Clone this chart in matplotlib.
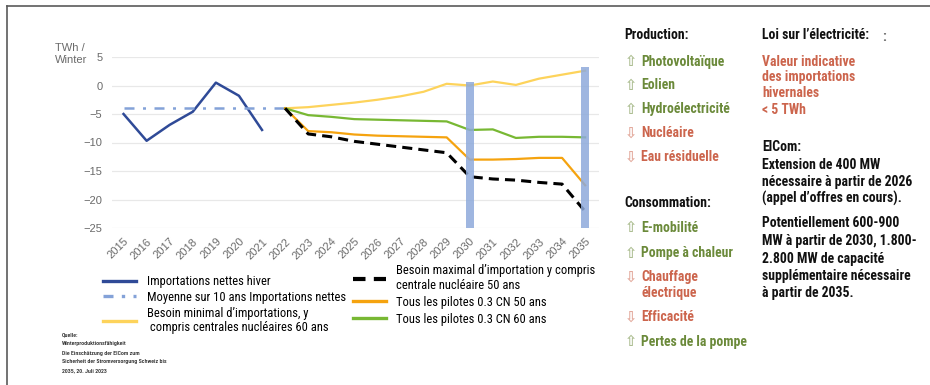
import matplotlib
matplotlib.use("Agg")
import matplotlib.pyplot as plt
from matplotlib.lines import Line2D

COND = ["Roboto Condensed", "DejaVu Sans"]
plt.rcParams["font.family"] = ["Liberation Sans", "DejaVu Sans"]

# winter net imports, TWh
years = list(range(2015, 2036))
hist_years = list(range(2015, 2022))
net_imports = [-5.0, -9.7, -6.9, -4.6, 0.5, -1.8, -7.8]
avg_years = list(range(2015, 2023))
avg_10y = [-4.0] * 8

proj_years = list(range(2022, 2036))
min_need_60 = [-4.0, -3.8, -3.4, -3.0, -2.5, -1.9, -1.1, 0.3, 0.0, 0.7, 0.1, 1.2, 1.9, 2.6]
max_need_50 = [-4.0, -8.5, -9.0, -9.8, -10.3, -10.8, -11.3, -11.8, -16.0, -16.4, -16.6, -17.0, -17.3, -22.1]
pilots_50 = [-4.0, -8.0, -8.2, -8.6, -8.8, -8.9, -9.0, -9.1, -13.0, -13.0, -12.9, -12.7, -12.7, -17.5]
pilots_60 = [-4.0, -5.2, -5.5, -5.9, -6.0, -6.1, -6.2, -6.3, -7.8, -7.7, -9.2, -9.0, -9.0, -9.1]

# highlighted milestone years
mark_years = [2030, 2035]
mark_top = [0.6, 3.3]
y_floor = -25

NAVY = "#2f4a97"
LIGHT_BLUE = "#84a2d8"
YELLOW = "#fdd35b"
GREEN_LINE = "#78b833"
ORANGE = "#f5a30f"

fig = plt.figure(figsize=(9.3, 3.85), dpi=100)
ax = fig.add_axes([112 / 930, 1 - 228 / 385, 487 / 930, 171 / 385])

ax.plot(hist_years, net_imports, color=NAVY, lw=1.8, zorder=3)
ax.plot(avg_years, avg_10y, color=LIGHT_BLUE, lw=1.8, dashes=(4, 3.4, 1.2, 3.4), zorder=3)
ax.plot(proj_years, min_need_60, color=YELLOW, lw=1.6, zorder=3)
ax.plot(proj_years, pilots_60, color=GREEN_LINE, lw=1.6, zorder=3)
ax.plot(proj_years, pilots_50, color=ORANGE, lw=1.6, zorder=3)
ax.plot(proj_years, max_need_50, color="black", lw=2.2, dashes=(3.3, 2), zorder=3)
ax.bar(mark_years, [t - y_floor for t in mark_top], bottom=y_floor, width=0.33,
       color="#8eaadb", alpha=0.85, zorder=4)

ax.set_xlim(2014.5, 2035.6)
ax.set_ylim(-25, 5)
ax.set_yticks(range(-25, 6, 5))
ax.set_xticks(years)
ax.set_xticklabels([str(y) for y in years], rotation=45, ha="right", rotation_mode="anchor")
ax.tick_params(length=0, colors="#6a6a6a", labelsize=8)
ax.tick_params(axis="y", pad=7)
ax.tick_params(axis="x", pad=6)
ax.grid(axis="y", color="#e8e8e8", lw=0.9)
ax.set_axisbelow(True)
for s in ax.spines.values():
    s.set_visible(False)
fig.text(55 / 930, 1 - 54 / 385, "TWh /\nWinter", fontsize=8, color="#6a6a6a",
         linespacing=1.25, va="center", ha="left")

leg_font = {"family": COND, "size": 9}
left_handles = [
    Line2D([], [], color=NAVY, lw=2.4),
    Line2D([], [], color=LIGHT_BLUE, lw=2.4, dashes=(3, 2.5, 1, 2.5)),
    Line2D([], [], color=YELLOW, lw=2.4),
]
left_labels = ["Importations nettes hiver",
               "Moyenne sur 10 ans Importations nettes",
               "Besoin minimal d’importations, y\n compris centrales nucléaires 60 ans"]
fig.legend(left_handles, left_labels, loc="upper left", bbox_to_anchor=(103 / 930, 1 - 275 / 385),
           frameon=False, prop=leg_font, handlelength=2.6, handletextpad=0.95,
           labelspacing=0.22, borderaxespad=0, borderpad=0)
right_handles = [
    Line2D([], [], color="black", lw=3.0, dashes=(3, 2)),
    Line2D([], [], color=ORANGE, lw=2.4),
    Line2D([], [], color=GREEN_LINE, lw=2.4),
]
right_labels = ["Besoin maximal d’importation y compris\ncentrale nucléaire 50 ans",
                "Tous les pilotes 0.3 CN 50 ans",
                "Tous les pilotes 0.3 CN 60 ans"]
fig.legend(right_handles, right_labels, loc="upper left", bbox_to_anchor=(353 / 930, 1 - 264 / 385),
           frameon=False, prop=leg_font, handlelength=2.6, handletextpad=0.8,
           labelspacing=0.3, borderaxespad=0, borderpad=0)

source_lines = ["Quelle:", "Winterproduktionsfähigkeit", "Die Einschätzung der ElCom zum",
                "Sicherheit der Stromversorgung Schweiz bis", "2035, 20. Juli 2023"]
for i, line in enumerate(source_lines):
    fig.text(62 / 930, 1 - (335 + 9 * i) / 385, line, fontsize=4.2, color="#222222",
             family=COND, va="center", weight="medium")

GREEN = "#6b8a3a"
RED = "#cc654d"
UP, DOWN = "⇧", "⇩"
bold = dict(family=COND, weight="bold", fontsize=9.9)

fig.text(624 / 930, 1 - 35 / 385, "Production:", color="#111111", va="center", **bold)
fig.text(624 / 930, 1 - 203 / 385, "Consommation:", color="#111111", va="center", **bold)
drivers = [("Photovoltaïque", UP, 62), ("Eolien", UP, 85), ("Hydroélectricité", UP, 109),
           ("Nucléaire", DOWN, 133), ("Eau résiduelle", DOWN, 157),
           ("E-mobilité", UP, 228), ("Pompe à chaleur", UP, 253),
           ("Chauffage", DOWN, 277), ("Efficacité", DOWN, 317),
           ("Pertes de la pompe", UP, 342)]
for label, arrow, ypx in drivers:
    c = GREEN if arrow == UP else RED
    fig.text(625 / 930, 1 - ypx / 385, arrow, color=c, alpha=0.55, fontsize=10.5,
             family="DejaVu Sans", va="center", weight="bold")
    fig.text(641 / 930, 1 - ypx / 385, label, color=c, va="center", **bold)
fig.text(641 / 930, 1 - 293 / 385, "électrique", color=RED, va="center", **bold)

x2 = 762 / 930
fig.text(x2, 1 - 35 / 385, "Loi sur l’électricité:", color="#111111", va="center", **bold)
fig.text(882 / 930, 1 - 37 / 385, ":", color="#666666", va="center", **bold)
law_lines = [("Valeur indicative", 62), ("des importations", 77), ("hivernales", 93),
             ("< 5 TWh", 110)]
for line, ypx in law_lines:
    fig.text(x2, 1 - ypx / 385, line, color=RED, va="center", **bold)
elcom_lines = [("ElCom:", 147), ("Extension de 400 MW", 165),
               ("nécessaire à partir de 2026", 182), ("(appel d’offres en cours).", 198),
               ("Potentiellement 600-900", 223), ("MW à partir de 2030, 1.800-", 241),
               ("2.800 MW de capacité", 259), ("supplémentaire nécessaire", 276),
               ("à partir de 2035.", 293)]
for line, ypx in elcom_lines:
    fig.text(x2, 1 - ypx / 385, line, color="#111111", va="center", **bold)

frame_kw = dict(color="#5a5a5a", lw=1.2, transform=fig.transFigure)
fig.add_artist(Line2D([7 / 930, 1.0], [1 - 6 / 385, 1 - 6 / 385], **frame_kw))
fig.add_artist(Line2D([7 / 930, 7 / 930], [0.0, 1 - 6 / 385], **frame_kw))

fig.savefig("out.png", dpi=100)
